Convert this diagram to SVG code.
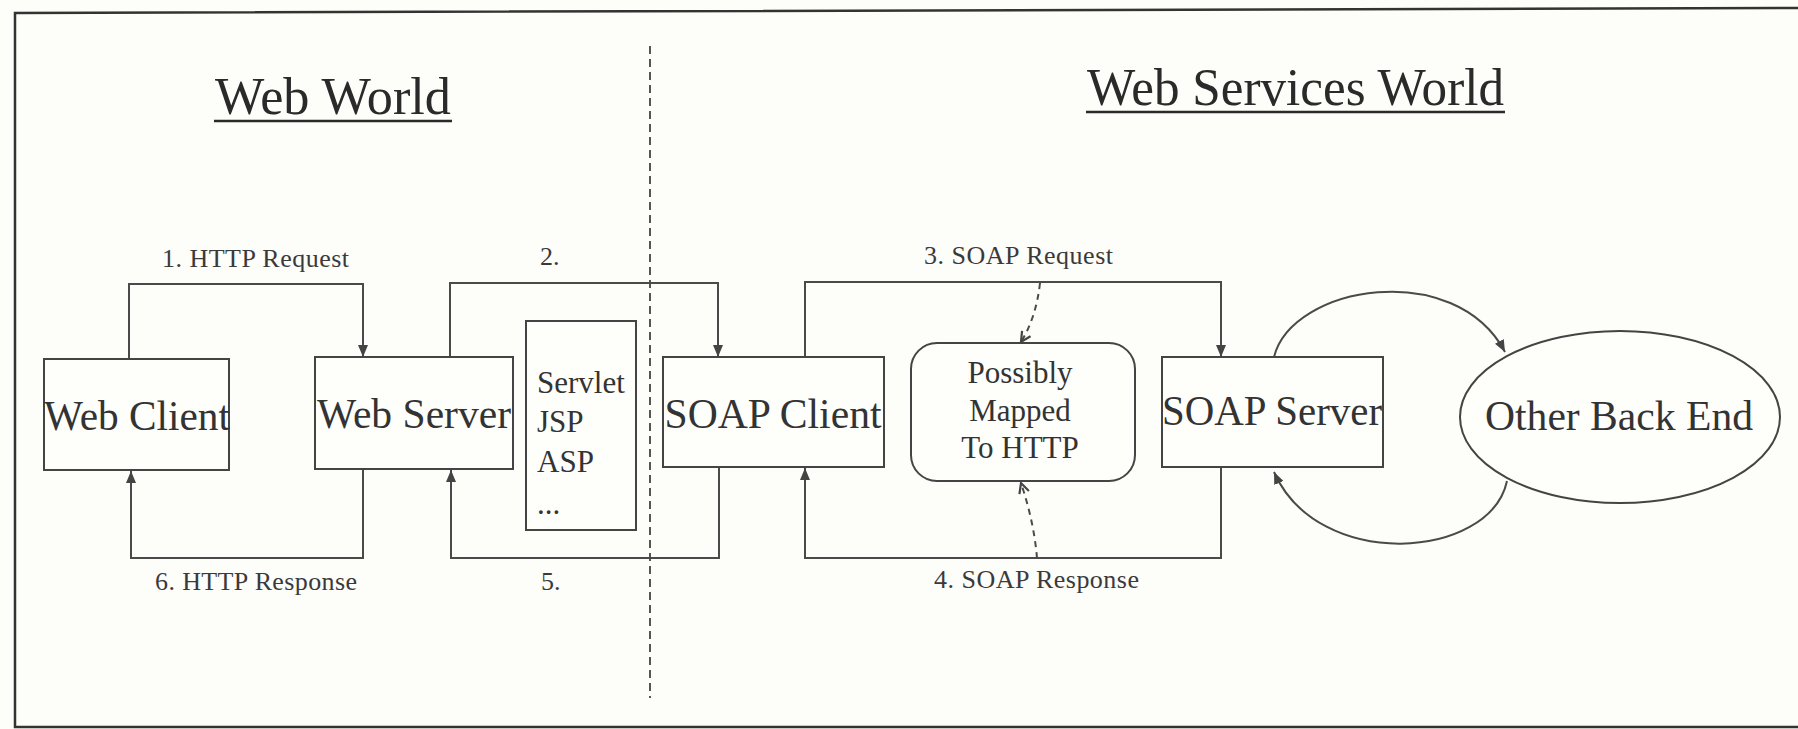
<svg xmlns="http://www.w3.org/2000/svg" width="1798" height="729" viewBox="0 0 1798 729">
  <style>
    .bg { fill: #fdfdf9; }
    .frame { fill: none; stroke: #333; stroke-width: 2.5; }
    .box { fill: #fefefb; stroke: #444; stroke-width: 2; }
    .wire { fill: none; stroke: #4a4a4a; stroke-width: 2; }
    .dash { fill: none; stroke: #4a4a4a; stroke-width: 2; stroke-dasharray: 6 5; }
    .divider { fill: none; stroke: #555; stroke-width: 2; stroke-dasharray: 8 5; }
    .title { font-family: "Liberation Serif", "Times New Roman", serif; font-size: 52px; fill: #2a2a2a; }
    .ul { stroke: #2a2a2a; stroke-width: 2.5; }
    .node { font-family: "Liberation Serif", "Times New Roman", serif; font-size: 42px; fill: #333; text-anchor: middle; }
    .small { font-family: "Liberation Serif", "Times New Roman", serif; font-size: 31px; fill: #333; }
    .lbl { font-family: "Liberation Serif", "Times New Roman", serif; font-size: 26px; fill: #3a3a3a; }
  </style>
  <defs>
    <marker id="tri" viewBox="0 0 12 10" refX="12" refY="5" markerWidth="12" markerHeight="10" markerUnits="userSpaceOnUse" orient="auto">
      <path d="M0,0 L12,5 L0,10 Z" fill="#444"/>
    </marker>
    <marker id="vee" viewBox="0 0 12 12" refX="11" refY="6" markerWidth="12" markerHeight="12" markerUnits="userSpaceOnUse" orient="auto">
      <path d="M1,1 L11,6 L1,11" fill="none" stroke="#444" stroke-width="2.2"/>
    </marker>
  </defs>

  <rect class="bg" x="0" y="0" width="1798" height="729"/>
  <!-- outer frame (open on the right) -->
  <path class="frame" d="M1798,8 L15,13 L15,727 L1798,727"/>

  <!-- split between the two worlds -->
  <line class="divider" x1="650" y1="46" x2="650" y2="698"/>

  <!-- titles -->
  <g id="title-web">
    <text class="title" x="215" y="114" textLength="236" lengthAdjust="spacingAndGlyphs">Web World</text>
    <line class="ul" x1="214" y1="121" x2="452" y2="121"/>
  </g>
  <g id="title-ws">
    <text class="title" x="1087" y="105" textLength="417" lengthAdjust="spacingAndGlyphs">Web Services World</text>
    <line class="ul" x1="1086" y1="112" x2="1505" y2="112"/>
  </g>

  <!-- connectors -->
  <g id="connectors">
    <path class="wire" d="M129,359 V284 H363 V357" marker-end="url(#tri)"/>
    <path class="wire" d="M450,357 V283 H718 V357" marker-end="url(#tri)"/>
    <path class="wire" d="M805,357 V282 H1221 V357" marker-end="url(#tri)"/>
    <path class="wire" d="M1221,467 V558 H805 V468" marker-end="url(#tri)"/>
    <path class="wire" d="M719,467 V558 H451 V470" marker-end="url(#tri)"/>
    <path class="wire" d="M363,469 V558 H131 V471" marker-end="url(#tri)"/>
    <path class="dash" d="M1040,283 Q1036,318 1021,342" marker-end="url(#vee)"/>
    <path class="dash" d="M1037,558 Q1034,522 1021,483" marker-end="url(#vee)"/>
    <path class="wire" d="M1274,357 C1292,285 1455,258 1505,352" marker-end="url(#tri)"/>
    <path class="wire" d="M1507,481 C1490,560 1318,572 1274,472" marker-end="url(#tri)"/>

    <text class="lbl" x="162" y="267" textLength="187" lengthAdjust="spacing">1. HTTP Request</text>
    <text class="lbl" x="540" y="265">2.</text>
    <text class="lbl" x="924" y="264" textLength="189" lengthAdjust="spacing">3. SOAP Request</text>
    <text class="lbl" x="934" y="588" textLength="205" lengthAdjust="spacing">4. SOAP Response</text>
    <text class="lbl" x="541" y="590">5.</text>
    <text class="lbl" x="155" y="590" textLength="202" lengthAdjust="spacing">6. HTTP Response</text>
  </g>

  <!-- nodes -->
  <g id="web-client">
    <rect class="box" x="44" y="359" width="185" height="111"/>
    <text class="node" x="137" y="430" textLength="186" lengthAdjust="spacingAndGlyphs">Web Client</text>
  </g>
  <g id="web-server">
    <rect class="box" x="315" y="357" width="198" height="112"/>
    <text class="node" x="414" y="428" textLength="194" lengthAdjust="spacingAndGlyphs">Web Server</text>
  </g>
  <g id="servlet">
    <rect class="box" x="526" y="321" width="110" height="209"/>
    <text class="small" x="537" y="393" font-size="33">Servlet</text>
    <text class="small" x="537" y="432" font-size="33">JSP</text>
    <text class="small" x="537" y="472" font-size="33">ASP</text>
    <text class="small" x="537" y="514" font-size="33">...</text>
  </g>
  <g id="soap-client">
    <rect class="box" x="663" y="357" width="221" height="110"/>
    <text class="node" x="773" y="428" textLength="217" lengthAdjust="spacingAndGlyphs">SOAP Client</text>
  </g>
  <g id="mapped">
    <rect class="box" x="911" y="343" width="224" height="138" rx="26" ry="26"/>
    <text class="small" x="1020" y="383" text-anchor="middle">Possibly</text>
    <text class="small" x="1020" y="421" text-anchor="middle">Mapped</text>
    <text class="small" x="1020" y="458" text-anchor="middle">To HTTP</text>
  </g>
  <g id="soap-server">
    <rect class="box" x="1162" y="357" width="221" height="110"/>
    <text class="node" x="1272" y="425" textLength="220" lengthAdjust="spacingAndGlyphs">SOAP Server</text>
  </g>
  <g id="back-end">
    <ellipse class="box" cx="1620" cy="417" rx="160" ry="86"/>
    <text class="node" x="1619" y="430" textLength="268" lengthAdjust="spacingAndGlyphs">Other Back End</text>
  </g>
</svg>
